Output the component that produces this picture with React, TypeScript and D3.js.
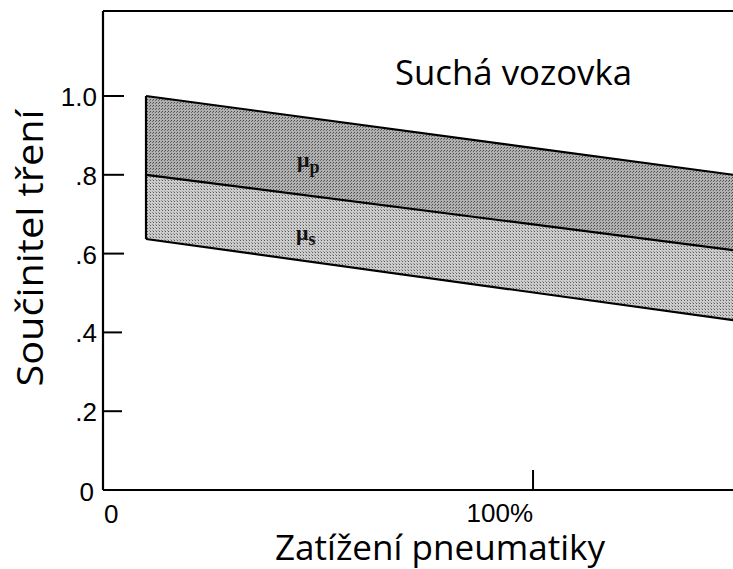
import React from "react";
import * as d3 from "d3";

const loads = [10, 150];
const upperMu = [1.0, 0.795];
const middleMu = [0.8, 0.604];
const lowerMu = [0.637, 0.426];
const yTicks = [0, 0.2, 0.4, 0.6, 0.8, 1.0];
const yTickLabels = ["0", ".2", ".4", ".6", ".8", "1.0"];
const xTicks = [100];
const xTickLabels = ["100%"];

const W = 733, H = 569;

export default function App() {
  const x = d3.scaleLinear().domain([0, 146.5]).range([103, 733]);
  const y = d3.scaleLinear().domain([0, 1.0]).range([490, 96]);
  const yTop = y(1.216);

  const pts = (vals: number[]) => loads.map((l, i) => [x(l), y(vals[i])] as [number, number]);
  const line = d3.line<[number, number]>();
  const area = (top: number[], bot: number[]) => {
    const t = pts(top);
    const b = pts(bot).reverse();
    return line([...t, ...b]) + "Z";
  };

  const tickFont = "'Liberation Sans', Arial, sans-serif";
  const labelFont = "'Open Sans', sans-serif";

  return (
    <svg width={W} height={H} style={{ position: "absolute", left: 0, top: 0 }}>
      <defs>
        <pattern id="dotsDark" width="3" height="3" patternUnits="userSpaceOnUse">
          <rect width="3" height="3" fill="#b0b0b0" />
          <rect x="0" y="0" width="1" height="1" fill="#4a4a4a" />
          <rect x="2" y="1" width="1" height="1" fill="#6a6a6a" />
        </pattern>
        <pattern id="dotsLight" width="3" height="3" patternUnits="userSpaceOnUse">
          <rect width="3" height="3" fill="#cccccc" />
          <rect x="0" y="0" width="1" height="1" fill="#5a5a5a" />
          <rect x="2" y="2" width="1" height="1" fill="#959595" />
        </pattern>
      </defs>
      <rect width={W} height={H} fill="#fff" />
      <path d={area(upperMu, middleMu)} fill="url(#dotsDark)" />
      <path d={area(middleMu, lowerMu)} fill="url(#dotsLight)" />
      <path d={line(pts(upperMu))!} stroke="#000" strokeWidth={2.2} fill="none" />
      <path d={line(pts(middleMu))!} stroke="#000" strokeWidth={2.2} fill="none" />
      <path d={line(pts(lowerMu))!} stroke="#000" strokeWidth={2.2} fill="none" />
      <line x1={x(loads[0])} x2={x(loads[0])} y1={y(upperMu[0])} y2={y(lowerMu[0])} stroke="#000" strokeWidth={2.2} />

      <line x1={x(0)} x2={W} y1={yTop} y2={yTop} stroke="#000" strokeWidth={2} />
      <line x1={x(0)} x2={x(0)} y1={yTop} y2={y(0)} stroke="#000" strokeWidth={2.2} />
      <line x1={x(0)} x2={W} y1={y(0)} y2={y(0)} stroke="#000" strokeWidth={2.2} />

      {yTicks.map((t, i) => (
        <g key={i}>
          {t > 0 && (
            <line x1={x(0)} x2={x(0) + (t >= 0.6 ? 21 : 19)} y1={y(t)} y2={y(t)} stroke="#000" strokeWidth={2} />
          )}
          <text x={t === 0 ? 94 : 97} y={y(t) + (t === 0 ? 11 : 10)} textAnchor="end" fontFamily={tickFont} fontSize={26} fill="#000">
            {yTickLabels[i]}
          </text>
        </g>
      ))}
      {xTicks.map((t, i) => (
        <g key={i}>
          <line x1={x(t)} x2={x(t)} y1={y(0)} y2={y(0) - 20} stroke="#000" strokeWidth={2} />
          <text x={x(t)} y={522} textAnchor="end" fontFamily={tickFont} fontSize={26} fill="#000">
            {xTickLabels[i]}
          </text>
        </g>
      ))}
      <text x={104} y={523} fontFamily={tickFont} fontSize={26} fill="#000">0</text>

      <text x={395} y={85} fontFamily={labelFont} fontSize={34} textLength={237} lengthAdjust="spacingAndGlyphs" fill="#000">Suchá vozovka</text>
      <text x={275} y={560} fontFamily={labelFont} fontSize={34} textLength={330} lengthAdjust="spacingAndGlyphs" fill="#000">Zatížení pneumatiky</text>
      <text transform="translate(43,248) rotate(-90)" textAnchor="middle" fontFamily={labelFont} fontSize={36} textLength={277} lengthAdjust="spacingAndGlyphs" fill="#000">
        Součinitel tření
      </text>

      <text x={297} y={167} fontFamily="'Liberation Serif', 'DejaVu Serif', serif" fontSize={22} fontWeight="bold" fill="#111">
        μ<tspan fontSize={18} dy={6}>p</tspan>
      </text>
      <text x={296} y={240} fontFamily="'Liberation Serif', 'DejaVu Serif', serif" fontSize={22} fontWeight="bold" fill="#111">
        μ<tspan fontSize={18} dy={5}>s</tspan>
      </text>
    </svg>
  );
}
